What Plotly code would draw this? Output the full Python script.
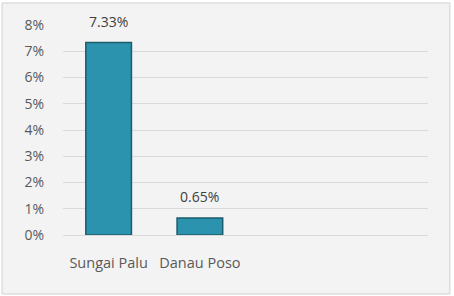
import plotly.graph_objects as go

categories = ["Sungai Palu", "Danau Poso"]
values = [7.33, 0.65]
labels = ["7.33%", "0.65%"]
y_ticks = [0, 1, 2, 3, 4, 5, 6, 7, 8]
y_ticktext = [f"{v}%" for v in y_ticks]

x_pos = list(range(len(categories)))

fig = go.Figure()
fig.add_trace(go.Bar(
    x=x_pos, y=values, width=0.5,
    marker=dict(color="#2b93ad", line=dict(color="#1d5c6c", width=1.5)),
    hoverinfo="skip",
))

for xi, v, t in zip(x_pos, values, labels):
    fig.add_annotation(x=xi, y=v, text=t, showarrow=False, yanchor="bottom",
                       yshift=10, font=dict(family="Open Sans", size=14, color="#404040"))

# outer frame of the chart area
fig.add_shape(type="rect", xref="paper", yref="paper",
              x0=-0.167, x1=1.060, y0=-0.281, y1=1.105,
              fillcolor="#f3f3f3", line=dict(color="#d0d0d0", width=1), layer="below")

fig.update_layout(
    width=454, height=296,
    margin=dict(l=63, r=26, t=25, b=61),
    paper_bgcolor="white", plot_bgcolor="rgba(0,0,0,0)",
    showlegend=False,
    font=dict(family="Open Sans", size=14, color="#595959"),
    xaxis=dict(range=[-0.5, 3.5], tickvals=x_pos, ticktext=categories,
               showgrid=False, zeroline=False, showline=False, ticks="",
               ticklabelstandoff=17, tickfont=dict(size=14.5, color="#595959")),
    yaxis=dict(range=[0, 8], tickvals=y_ticks, ticktext=y_ticktext,
               showgrid=True, gridcolor="#d9d9d9", gridwidth=1,
               zeroline=True, zerolinecolor="#d9d9d9", zerolinewidth=1,
               showline=False, ticks="", ticklabelstandoff=18,
               tickfont=dict(size=14, color="#595959")),
)

fig.write_html("out.html")
